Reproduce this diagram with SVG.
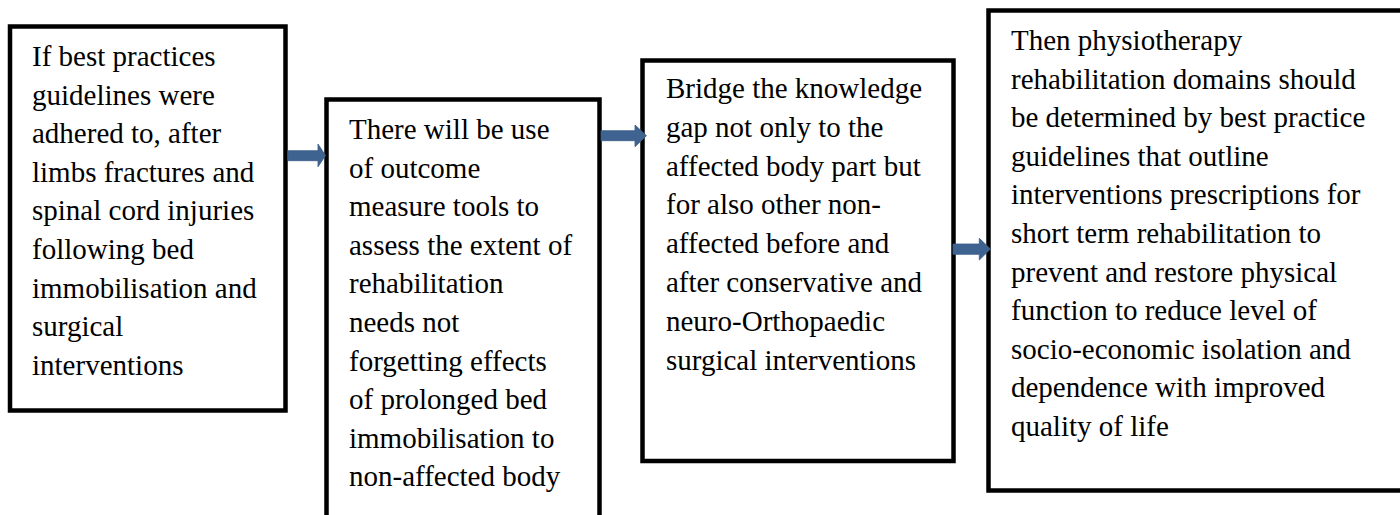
<svg xmlns="http://www.w3.org/2000/svg" width="1400" height="515" viewBox="0 0 1400 515">
<style>
.box{fill:#ffffff;stroke:#000000;stroke-width:4.5}
.t{font-family:"Liberation Serif","Times New Roman",serif;font-size:29px;fill:#000000}
.arr{fill:#3f6391;stroke:#3a5c88;stroke-width:0.8}
</style>
<rect width="1400" height="515" fill="#ffffff"/>
<g id="node1">
<rect class="box" x="10" y="26.5" width="275.5" height="384"/>
<text class="t" x="32">
<tspan x="32" y="66">If best practices</tspan>
<tspan x="32" y="104.6">guidelines were</tspan>
<tspan x="32" y="143.2">adhered to, after</tspan>
<tspan x="32" y="181.8">limbs fractures and</tspan>
<tspan x="32" y="220.4">spinal cord injuries</tspan>
<tspan x="32" y="259">following bed</tspan>
<tspan x="32" y="297.6">immobilisation and</tspan>
<tspan x="32" y="336.2">surgical</tspan>
<tspan x="32" y="374.8">interventions</tspan>
</text>
</g>
<g id="node2">
<rect class="box" x="326.5" y="99.5" width="273" height="440"/>
<text class="t">
<tspan x="349" y="139">There will be use</tspan>
<tspan x="349" y="177.6">of outcome</tspan>
<tspan x="349" y="216.2">measure tools to</tspan>
<tspan x="349" y="254.8">assess the extent of</tspan>
<tspan x="349" y="293.4">rehabilitation</tspan>
<tspan x="349" y="332">needs not</tspan>
<tspan x="349" y="370.6">forgetting effects</tspan>
<tspan x="349" y="409.2">of prolonged bed</tspan>
<tspan x="349" y="447.8">immobilisation to</tspan>
<tspan x="349" y="486.4">non-affected body</tspan>
</text>
</g>
<g id="node3">
<rect class="box" x="642.5" y="60.5" width="311" height="400.5"/>
<text class="t">
<tspan x="666" y="98">Bridge the knowledge</tspan>
<tspan x="666" y="136.8">gap not only to the</tspan>
<tspan x="666" y="175.6">affected body part but</tspan>
<tspan x="666" y="214.4">for also other non-</tspan>
<tspan x="666" y="253.2">affected before and</tspan>
<tspan x="666" y="292">after conservative and</tspan>
<tspan x="666" y="330.8">neuro-Orthopaedic</tspan>
<tspan x="666" y="369.6">surgical interventions</tspan>
</text>
</g>
<g id="node4">
<rect class="box" x="988.5" y="10.5" width="430" height="480"/>
<text class="t">
<tspan x="1011" y="50">Then physiotherapy</tspan>
<tspan x="1011" y="88.6">rehabilitation domains should</tspan>
<tspan x="1011" y="127.2">be determined by best practice</tspan>
<tspan x="1011" y="165.8">guidelines that outline</tspan>
<tspan x="1011" y="204.4">interventions prescriptions for</tspan>
<tspan x="1011" y="243">short term rehabilitation to</tspan>
<tspan x="1011" y="281.6">prevent and restore physical</tspan>
<tspan x="1011" y="320.2">function to reduce level of</tspan>
<tspan x="1011" y="358.8">socio-economic isolation and</tspan>
<tspan x="1011" y="397.4">dependence with improved</tspan>
<tspan x="1011" y="436">quality of life</tspan>
</text>
</g>
<g id="connectors">
<polygon class="arr" points="288,150.7 318,150.7 318,144 325.5,155.5 318,166.8 318,160.7 288,160.7"/>
<polygon class="arr" points="601,130.7 635,130.7 635,125 646.5,135.7 635,146.7 635,140.7 601,140.7"/>
<polygon class="arr" points="953,244 979.3,244 979.3,238.3 990.5,249 979.3,260 979.3,254.3 953,254.3"/>
</g>
</svg>
